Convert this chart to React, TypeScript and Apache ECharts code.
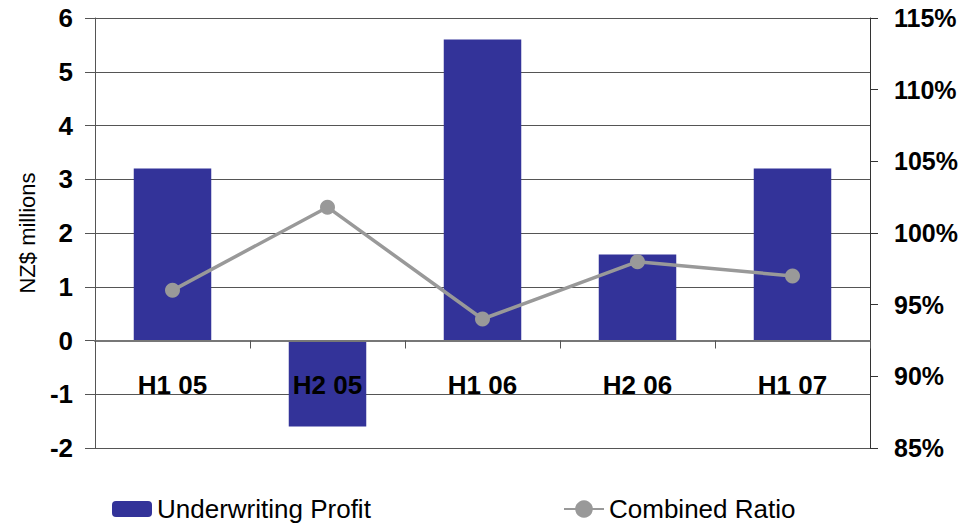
import React, { useEffect, useRef } from "react";
import * as echarts from "echarts";

const categories = ["H1 05", "H2 05", "H1 06", "H2 06", "H1 07"];
const underwritingProfit = [3.2, -1.6, 5.6, 1.6, 3.2];
const combinedRatio = [96, 101.8, 94, 98, 97];

const FONT = "'Liberation Sans', Arial, sans-serif";

export default function App() {
  const ref = useRef<HTMLDivElement>(null);

  useEffect(() => {
    if (!ref.current) return;
    const chart = echarts.init(ref.current, undefined, { renderer: "svg" });
    chart.setOption({
      animation: false,
      backgroundColor: "#ffffff",
      textStyle: { fontFamily: FONT, color: "#000" },
      grid: { left: 95, right: 109, top: 18, bottom: 79 },
      legend: [
        {
          data: ["Underwriting Profit"],
          left: 107,
          top: 491,
          itemWidth: 40,
          itemHeight: 16,
          itemGap: 6,
          textStyle: { fontFamily: FONT, fontSize: 26, color: "#000" },
        },
        {
          data: ["Combined Ratio"],
          left: 558,
          top: 491,
          itemWidth: 40,
          itemHeight: 22,
          itemGap: 6,
          textStyle: { fontFamily: FONT, fontSize: 26, color: "#000" },
        },
      ],
      xAxis: {
        type: "category",
        data: categories,
        z: 10,
        axisLine: { onZero: true, onZeroAxisIndex: 0, lineStyle: { color: "#777", width: 2 } },
        axisTick: { show: true, inside: false, length: 8, lineStyle: { color: "#555" } },
        axisLabel: {
          margin: -76,
          fontFamily: FONT,
          fontSize: 26,
          fontWeight: "bold",
          color: "#000",
        },
      },
      yAxis: [
        {
          type: "value",
          min: -2,
          max: 6,
          interval: 1,
          name: "NZ$ millions",
          nameLocation: "middle",
          nameGap: 54,
          nameTextStyle: { fontFamily: FONT, fontSize: 22, color: "#000" },
          axisLine: { show: true, lineStyle: { color: "#555" } },
          axisTick: { show: true, length: 10, lineStyle: { color: "#555" } },
          axisLabel: {
            margin: 22,
            fontFamily: FONT,
            fontSize: 26,
            fontWeight: "bold",
            color: "#000",
          },
          splitLine: { show: true, lineStyle: { color: "#555", width: 1 } },
        },
        {
          type: "value",
          min: 85,
          max: 115,
          interval: 5,
          position: "right",
          axisLine: { show: true, lineStyle: { color: "#333" } },
          axisTick: { show: true, length: 8, lineStyle: { color: "#333" } },
          axisLabel: {
            margin: 24,
            fontFamily: FONT,
            fontSize: 25,
            fontWeight: "bold",
            color: "#000",
            formatter: "{value}%",
          },
          splitLine: { show: false },
        },
      ],
      series: [
        {
          name: "Underwriting Profit",
          type: "bar",
          data: underwritingProfit,
          barWidth: "50%",
          itemStyle: { color: "#333399" },
        },
        {
          name: "Combined Ratio",
          type: "line",
          yAxisIndex: 1,
          data: combinedRatio,
          symbol: "circle",
          symbolSize: 15,
          itemStyle: { color: "#999999" },
          lineStyle: { color: "#999999", width: 3.5 },
          z: 5,
        },
      ],
    });
    return () => chart.dispose();
  }, []);

  return (
    <div
      ref={ref}
      style={{ position: "fixed", left: 0, top: 0, width: 979, height: 527 }}
    />
  );
}
